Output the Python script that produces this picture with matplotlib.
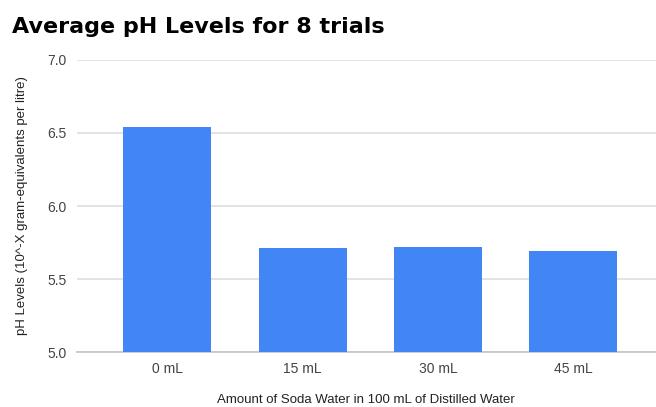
import numpy as np
import matplotlib
matplotlib.use("Agg")
from matplotlib import pyplot as plt

# data
categories = ["0 mL", "15 mL", "30 mL", "45 mL"]
ph_values = [6.54, 5.71, 5.72, 5.69]
yticks = [5.0, 5.5, 6.0, 6.5, 7.0]

plt.rcParams['font.family'] = ['Liberation Sans', 'DejaVu Sans']

fig = plt.figure(figsize=(6.56, 4.07), dpi=100)
W, H = 656, 407
ax = fig.add_axes([76.7 / W, 1 - 352.3 / H, 1 - 76.7 / W, (352.3 - 59.7) / H])

x = np.arange(len(categories))
ax.bar(x, np.array(ph_values) - 5.0, bottom=5.0, width=0.65, color="#4285F4", zorder=3)

ax.set_ylim(5.0, 7.0)
ax.set_xlim(-0.67, 3.61)
ax.set_yticks(yticks)
ax.set_yticklabels([f"{v:.1f}" for v in yticks])
ax.set_xticks(x)
ax.set_xticklabels(categories)

ax.grid(axis='y', color="#dedede", linewidth=1.2, zorder=0)
for s in ["top", "right", "left"]:
    ax.spines[s].set_visible(False)
ax.spines["bottom"].set_color("#c4c4c4")
ax.spines["bottom"].set_linewidth(1.2)
ax.tick_params(axis='both', length=0, labelsize=10, labelcolor="#444444")
ax.tick_params(axis='y', pad=7)
ax.tick_params(axis='x', pad=7)

ax.set_xlabel("Amount of Soda Water in 100 mL of Distilled Water", fontsize=9.5, color="#222222", labelpad=13)
ax.set_ylabel("pH Levels (10^-X gram-equivalents per litre)", fontsize=9.5, color="#222222", labelpad=14)

fig.text(12 / W, 1 - 33 / H, "Average pH Levels for 8 trials", fontsize=16, fontweight='heavy',
         family=['DejaVu Sans'], color="black", va='baseline', ha='left')

fig.savefig("out.png", dpi=100)
